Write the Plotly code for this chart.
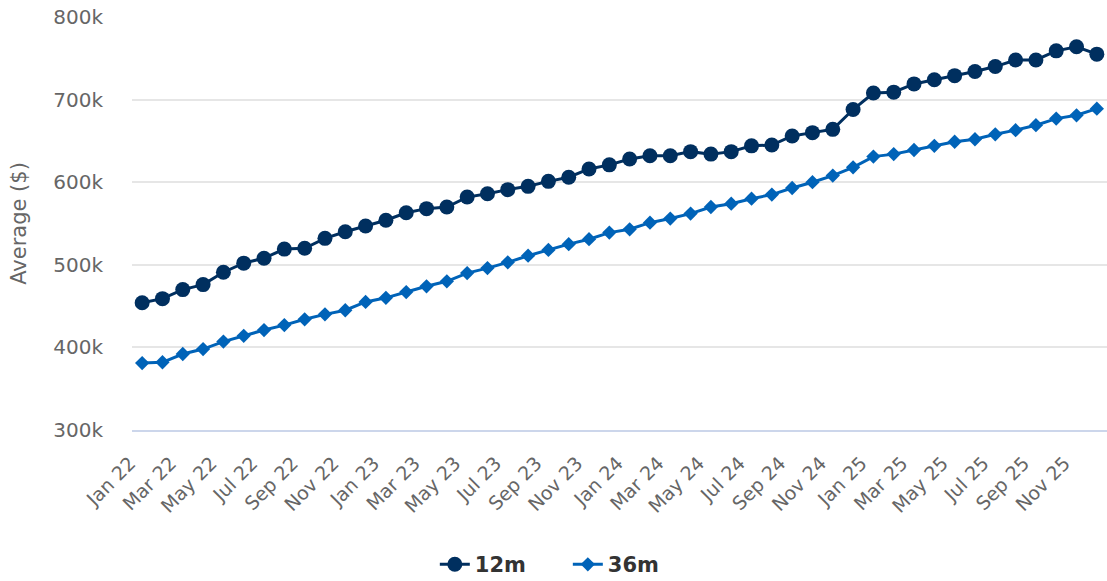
import plotly.graph_objects as go

months = ["Jan", "Feb", "Mar", "Apr", "May", "Jun", "Jul", "Aug", "Sep", "Oct", "Nov", "Dec"]
years = ["22", "23", "24", "25"]
categories = [f"{m} {y}" for y in years for m in months]
tick_labels = categories[::2]

series_12m = [454, 459, 470, 476, 491, 502, 508, 519, 520, 532, 540, 547,
              554, 563, 568, 570, 582, 586, 591, 595, 601, 606, 616, 621,
              628, 632, 632, 637, 634, 637, 644, 645, 656, 660, 664, 688,
              708, 709, 719, 724, 729, 734, 740, 748, 748, 759, 764, 755]
series_36m = [381, 382, 392, 398, 407, 414, 421, 427, 434, 440, 445, 455,
              460, 467, 474, 480, 490, 496, 503, 511, 518, 525, 531, 539,
              543, 551, 556, 562, 570, 574, 580, 585, 593, 600, 608, 618,
              631, 634, 639, 644, 649, 652, 658, 663, 669, 677, 681, 689]

font_family = "DejaVu Sans, Verdana, sans-serif"

fig = go.Figure()
fig.add_trace(go.Scatter(
    x=categories, y=[v * 1000 for v in series_12m], name="12m",
    mode="lines+markers",
    line=dict(color="#002f5f", width=3),
    marker=dict(symbol="circle", size=15, color="#002f5f"),
))
fig.add_trace(go.Scatter(
    x=categories, y=[v * 1000 for v in series_36m], name="36m",
    mode="lines+markers",
    line=dict(color="#0063b8", width=3),
    marker=dict(symbol="diamond", size=11, color="#0063b8"),
))

fig.update_layout(
    width=1107, height=581,
    margin=dict(l=132, r=0, t=17, b=151, autoexpand=False),
    plot_bgcolor="white", paper_bgcolor="white",
    font=dict(family=font_family, color="#666666"),
    showlegend=True,
    legend=dict(orientation="h", x=0.447, xanchor="center", y=-0.326, yanchor="middle",
                font=dict(size=21, color="#333333", family=font_family, weight="bold"),
                tracegroupgap=0, entrywidth=88, entrywidthmode="pixels"),
    hovermode="x",
)
fig.update_xaxes(
    type="category", categoryorder="array", categoryarray=categories,
    range=[-0.5, len(categories) - 0.5],
    tickmode="array", tickvals=tick_labels, ticktext=tick_labels,
    tickangle=-45, tickfont=dict(size=19, color="#666666"),
    showgrid=False, showline=True, linecolor="#ccd6eb", linewidth=1.5,
    ticks="", zeroline=False, ticklabelstandoff=13, ticklabelshift=-12,
    automargin=False,
)
fig.update_yaxes(
    range=[300000, 800000], tickvals=[300000, 400000, 500000, 600000, 700000, 800000],
    ticktext=["300k", "400k", "500k", "600k", "700k", "800k"],
    tickfont=dict(size=20, color="#666666"),
    showgrid=True, gridcolor="#e6e6e6", gridwidth=1.5, zeroline=False, showline=False,
    ticks="", ticklabelstandoff=28, automargin=False,
    title=dict(text="Average ($)", font=dict(size=21, color="#666666"), standoff=20),
)

fig.write_html("out.html", config={"displayModeBar": False},
               post_script="document.body.style.margin='0px';")
